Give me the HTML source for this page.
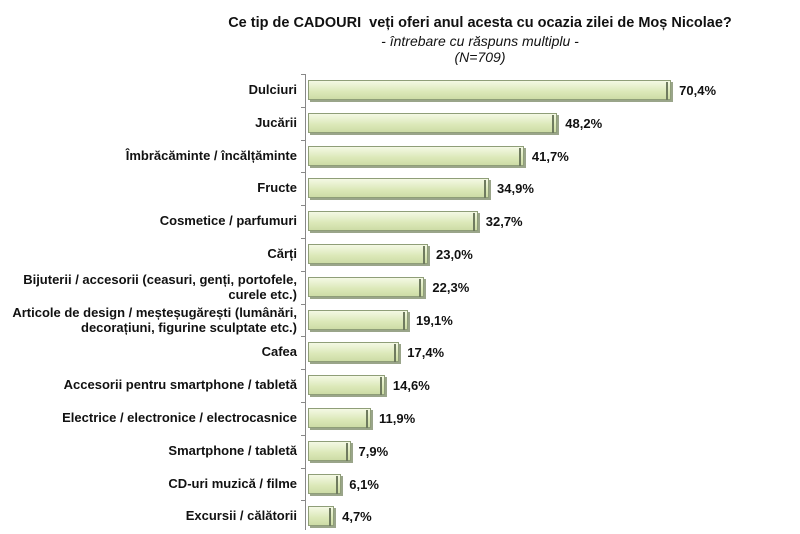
<!DOCTYPE html>
<html><head><meta charset="utf-8"><style>
body{margin:0;background:#fff;width:800px;height:534px;overflow:hidden;position:relative;font-family:"Liberation Sans",Arial,sans-serif;}
.t{position:absolute;left:180px;width:600px;text-align:center;color:#111;font-size:14px;}
.lab{position:absolute;right:503px;width:320px;text-align:right;font-size:13px;font-weight:bold;color:#111;line-height:15px;}
.bar{position:absolute;left:308px;height:18px;background:linear-gradient(#f4f9e4,#dbe8b8 60%,#cddca6);border:1px solid #8f9e78;box-shadow:2px 2px 0 #9aa58a;}
.bar:after{content:"";position:absolute;right:2px;top:1px;bottom:-1px;width:2px;background:#6f7b5f;}
.v{position:absolute;font-size:13px;font-weight:bold;color:#111;}
</style></head><body>
<div class="t" style="top:15px;font-weight:bold;font-size:14.5px">Ce tip de CADOURI &nbsp;veți oferi anul acesta cu ocazia zilei de Moș Nicolae?</div>
<div class="t" style="top:33px;font-style:italic">- întrebare cu răspuns multiplu -</div>
<div class="t" style="top:49px;font-style:italic">(N=709)</div>
<div style="position:absolute;left:305px;top:74px;width:1px;height:456px;background:#888"></div>
<div id="c"></div>
<script>
var d=[["Dulciuri",70.4],["Jucării",48.2],["Îmbrăcăminte / încălțăminte",41.7],["Fructe",34.9],["Cosmetice / parfumuri",32.7],["Cărți",23.0],["Bijuterii / accesorii (ceasuri, genți, portofele,<br>curele etc.)",22.3],["Articole de design / meșteșugărești (lumânări,<br>decorațiuni, figurine sculptate etc.)",19.1],["Cafea",17.4],["Accesorii pentru smartphone / tabletă",14.6],["Electrice / electronice / electrocasnice",11.9],["Smartphone / tabletă",7.9],["CD-uri muzică / filme",6.1],["Excursii / călătorii",4.7]];
var h="";
d.forEach(function(r,i){var c=90+i*32.8;var w=r[1]*5.13;var two=r[0].indexOf("<br>")>0;
h+='<div class="lab" style="top:'+(c-(two?15:8))+'px">'+r[0]+'</div>';
h+='<div class="bar" style="top:'+(c-10)+'px;width:'+w+'px"></div>';
h+='<div class="v" style="top:'+(c-7)+'px;left:'+(318+w)+'px">'+r[1].toFixed(1).replace(".",",")+'%</div>';
h+='<div style="position:absolute;left:301px;top:'+(c-16)+'px;width:4px;height:1px;background:#888"></div>';});
document.getElementById("c").innerHTML=h;
</script>
</body></html>
